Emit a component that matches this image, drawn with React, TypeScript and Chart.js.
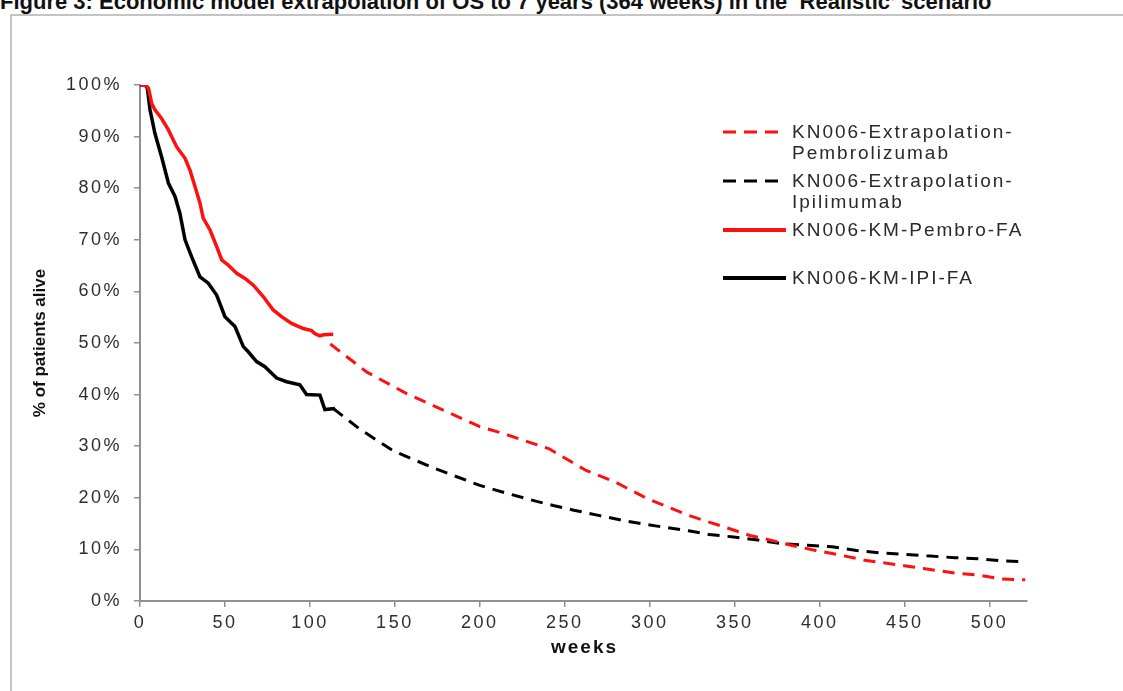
import React, { useEffect, useRef } from 'react';
import { Chart, registerables } from 'chart.js';

Chart.register(...registerables);

// ---------- data ----------
const pembroKmWeeks = [0, 3, 5, 6.9, 8.8, 12.7, 16.7, 21.6, 26.5, 29.4, 32.4, 35.3, 37.2, 41.2, 45.1, 48.1, 51.9, 56.9, 61.8, 66.7, 72.5, 78.4, 83.3, 89.2, 96.1, 101, 103, 105.9, 108, 113.7];
const pembroKmPct = [100, 100, 99.4, 96.4, 95.2, 93.5, 91.3, 88, 85.8, 83.5, 80.3, 77.1, 74.2, 71.9, 68.7, 66.1, 65.1, 63.5, 62.5, 61.2, 59, 56.4, 55.1, 53.8, 52.8, 52.4, 51.8, 51.4, 51.6, 51.7];

const ipiKmWeeks = [0, 3, 4.3, 5.9, 8.8, 12.7, 16.7, 20.6, 23.5, 26.5, 30.4, 35.3, 40.2, 45.1, 50, 55.9, 60.8, 63.7, 68.6, 73.5, 80.4, 86.3, 94.1, 98, 105.9, 108.8, 114.7];
const ipiKmPct = [100, 100, 99.4, 95.2, 90.6, 86.1, 81, 78.4, 75.1, 70, 66.7, 62.8, 61.6, 59.3, 55.1, 53.2, 49.3, 48.3, 46.4, 45.4, 43.2, 42.5, 41.9, 40, 39.9, 37.1, 37.3];

const pembroExtWeeks = [112, 133.3, 156.9, 180.4, 200, 214.3, 228.8, 240.8, 250.5, 262.5, 279.4, 298.7, 310.8, 322.8, 334.9, 347, 359, 371, 383.1, 397.6, 412, 426.5, 450.6, 465, 479.6, 494, 506, 521];
const pembroExtPct = [49.8, 44.4, 40.2, 36.7, 33.8, 32.4, 30.8, 29.5, 27.6, 25.3, 23.1, 19.8, 18.2, 16.6, 15.3, 14.0, 12.7, 11.8, 10.8, 9.8, 8.9, 7.9, 6.8, 6.1, 5.4, 5.0, 4.3, 4.1];

const ipiExtWeeks = [113.7, 129.4, 149, 172.5, 200, 216.7, 231.2, 243.2, 255.3, 269.8, 284.2, 296.3, 308.4, 322.8, 334.9, 349.4, 363.8, 378.3, 392.8, 407.2, 421.7, 436.2, 450.6, 465, 479.6, 494, 506, 521];
const ipiExtPct = [37.3, 33.3, 29.1, 25.8, 22.4, 20.8, 19.5, 18.5, 17.6, 16.6, 15.6, 14.9, 14.3, 13.6, 12.9, 12.4, 11.8, 11.1, 10.8, 10.5, 9.8, 9.3, 9.0, 8.7, 8.4, 8.2, 7.8, 7.6];

const seriesLabels = [
  ['KN006-Extrapolation-', 'Pembrolizumab'],
  ['KN006-Extrapolation-', 'Ipilimumab'],
  ['KN006-KM-Pembro-FA'],
  ['KN006-KM-IPI-FA'],
];

const xTickValues = [0, 50, 100, 150, 200, 250, 300, 350, 400, 450, 500];
const yTickValues = [0, 10, 20, 30, 40, 50, 60, 70, 80, 90, 100];
const xMax = 522;

const titleText = "Figure 3: Economic model extrapolation of OS to 7 years (364 weeks) in the \u2018Realistic\u2019 scenario";
const xTitle = 'weeks';
const yTitle = '% of patients alive';

const FONT = '"Liberation Sans", Arial, sans-serif';

const toPoints = (xs: number[], ys: number[]) => xs.map((x, i) => ({ x, y: ys[i] }));

const spacingPlugin = {
  id: 'spacingPlugin',
  beforeLayout(chart: any) { chart.ctx.letterSpacing = '2.5px'; },
  beforeDraw(chart: any) { chart.ctx.letterSpacing = '2.5px'; },
};

const overlayPlugin = {
  id: 'overlayPlugin',
  afterDraw(chart: any) {
    const ctx = chart.ctx as CanvasRenderingContext2D;
    const { left, right, top, bottom } = chart.chartArea;
    ctx.save();
    // axis titles
    (ctx as any).letterSpacing = '0px';
    ctx.fillStyle = '#111111';
    ctx.font = 'bold 17px ' + FONT;
    ctx.textAlign = 'center';
    ctx.textBaseline = 'middle';
    ctx.save();
    ctx.translate(40, (top + bottom) / 2);
    ctx.rotate(-Math.PI / 2);
    ctx.fillText(yTitle, 0, 0);
    ctx.restore();
    (ctx as any).letterSpacing = '2px';
    ctx.font = 'bold 19px ' + FONT;
    ctx.fillText(xTitle, (left + right) / 2 + 1, 648);

    // legend
    const rows = [132, 181, 230, 278];
    (ctx as any).letterSpacing = '2px';
    ctx.font = '19px ' + FONT;
    ctx.textAlign = 'left';
    rows.forEach((y, di) => {
      const ds = chart.data.datasets[di];
      ctx.save();
      ctx.strokeStyle = ds.borderColor;
      ctx.lineWidth = ds.borderDash ? 3 : 4;
      ctx.setLineDash(ds.borderDash ? [13, 8] : []);
      ctx.beginPath();
      ctx.moveTo(723, y);
      ctx.lineTo(786, y);
      ctx.stroke();
      ctx.restore();
      ctx.fillStyle = '#2a2a2a';
      seriesLabels[di].forEach((t, j) => ctx.fillText(t, 792, y + j * 21 + 1));
    });
    ctx.restore();
  },
};

export default function App() {
  const ref = useRef<HTMLCanvasElement>(null);
  useEffect(() => {
    if (!ref.current) return;
    const chart = new Chart(ref.current, {
      type: 'line',
      data: {
        datasets: [
          {
            label: seriesLabels[0].join(''),
            data: toPoints(pembroExtWeeks, pembroExtPct),
            borderColor: '#ff1010',
            borderWidth: 3,
            borderDash: [12, 8],
            pointRadius: 0,
            tension: 0,
          },
          {
            label: seriesLabels[1].join(''),
            data: toPoints(ipiExtWeeks, ipiExtPct),
            borderColor: '#000000',
            borderWidth: 3,
            borderDash: [12, 8],
            pointRadius: 0,
            tension: 0,
          },
          {
            label: seriesLabels[2].join(''),
            data: toPoints(pembroKmWeeks, pembroKmPct),
            borderColor: '#ff1010',
            borderWidth: 3.5,
            pointRadius: 0,
            tension: 0,
          },
          {
            label: seriesLabels[3].join(''),
            data: toPoints(ipiKmWeeks, ipiKmPct),
            borderColor: '#000000',
            borderWidth: 3.5,
            pointRadius: 0,
            tension: 0,
          },
        ],
      },
      options: {
        animation: false,
        responsive: false,
        devicePixelRatio: 1,
        layout: { padding: { top: 85, right: 96, left: 0, bottom: 0 } },
        plugins: {
          legend: { display: false },
          tooltip: { enabled: false },
          title: { display: false },
        },
        scales: {
          x: {
            type: 'linear',
            min: 0,
            max: xMax,
            afterFit: (s: any) => { s.height = 90; },
            afterBuildTicks: (s: any) => { s.ticks = xTickValues.map((v) => ({ value: v })); },
            grid: { drawOnChartArea: false, drawTicks: true, tickLength: 6, color: '#909090', lineWidth: 1.5 },
            border: { display: true, color: '#909090', width: 2 },
            ticks: {
              color: '#2e2e2e',
              font: { family: FONT, size: 18 },
              padding: 5,
              maxRotation: 0,
              autoSkip: false,
              callback: (v: any) => String(v),
            },
          },
          y: {
            type: 'linear',
            min: 0,
            max: 100,
            afterFit: (s: any) => { s.width = 140; },
            afterBuildTicks: (s: any) => { s.ticks = yTickValues.map((v) => ({ value: v })); },
            grid: { drawOnChartArea: false, drawTicks: true, tickLength: 6, color: '#909090', lineWidth: 1.5 },
            border: { display: true, color: '#909090', width: 2 },
            ticks: {
              color: '#2e2e2e',
              font: { family: FONT, size: 18 },
              padding: 12,
              autoSkip: false,
              callback: (v: any) => v + '%',
            },
          },
        },
      },
      plugins: [spacingPlugin, overlayPlugin],
    } as any);
    return () => chart.destroy();
  }, []);

  return (
    <div style={{ position: 'fixed', left: 0, top: 0, width: 1123, height: 691, overflow: 'hidden', background: '#fff' }}>
      <div style={{ position: 'absolute', left: 10, top: 14, width: 1200, height: 800, borderTop: '2px solid #c4c4c4', borderLeft: '2px solid #c4c4c4' }} />
      <div style={{ position: 'absolute', left: 0, top: -11, whiteSpace: 'nowrap', fontFamily: FONT, fontWeight: 'bold', fontSize: 22, color: '#111' }}>
        {titleText}
      </div>
      <canvas ref={ref} width={1123} height={691} style={{ position: 'absolute', left: 0, top: 0 }} />
    </div>
  );
}
